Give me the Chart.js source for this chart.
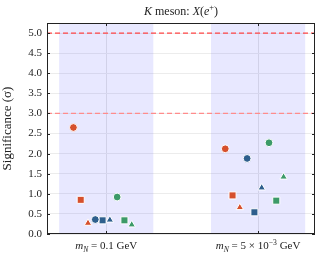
<!DOCTYPE html>
<html>
<head>
<meta charset="utf-8">
<script src="https://cdn.jsdelivr.net/npm/chart.js@4"></script>
<style>
  html, body { margin: 0; padding: 0; background: #fff; }
  #wrap { width: 321px; height: 257px; }
</style>
</head>
<body>
<div id="wrap"><canvas id="chart"></canvas></div>
<script>
// Mass points (x categories)
const massLabels = ['0.1', '5e-3'];
// Nine series: colour x marker
const seriesColors = ['#d6502d', '#d6502d', '#d6502d', '#2e5f8d', '#2e5f8d', '#2e5f8d', '#3c9a68', '#3c9a68', '#3c9a68'];
const seriesShapes = ['circle', 'rect', 'triangle', 'circle', 'rect', 'triangle', 'circle', 'rect', 'triangle'];
// Significance values per series, [m_N = 0.1, m_N = 5e-3]
const sigRedCircle   = [2.65, 2.12];
const sigRedSquare   = [0.85, 0.96];
const sigRedTri      = [0.27, 0.66];
const sigBlueCircle  = [0.36, 1.88];
const sigBlueSquare  = [0.34, 0.54];
const sigBlueTri     = [0.35, 1.15];
const sigGreenCircle = [0.92, 2.27];
const sigGreenSquare = [0.34, 0.83];
const sigGreenTri    = [0.23, 1.42];
const seriesValues = [sigRedCircle, sigRedSquare, sigRedTri, sigBlueCircle, sigBlueSquare, sigBlueTri, sigGreenCircle, sigGreenSquare, sigGreenTri];
// Reference significance lines
const thresholds = [5.0, 3.0];
const thresholdColors = ['rgb(255,70,70)', 'rgb(255,140,140)'];
const yTicks = [0, 0.5, 1, 1.5, 2, 2.5, 3, 3.5, 4, 4.5, 5];

const X_MIN = -0.39, X_MAX = 1.375;
const SERIF = '"Liberation Serif", "DejaVu Serif", serif';
const radiusFor = { circle: 3.9, rect: 5, triangle: 4.3 };

const datasets = seriesValues.map((vals, i) => {
  const off = (i - 4) * 0.048 - 0.024;
  return {
    type: 'scatter',
    label: 's' + i,
    order: 1,
    data: vals.map((v, g) => ({ x: g + off, y: v })),
    pointStyle: seriesShapes[i],
    pointRadius: radiusFor[seriesShapes[i]],
    pointBackgroundColor: seriesColors[i],
    pointBorderColor: '#ffffff',
    pointBorderWidth: 1,
    showLine: false
  };
});
thresholds.forEach((t, i) => {
  datasets.push({
    type: 'line',
    label: t + ' sigma',
    order: 10,
    data: [{ x: X_MIN, y: t }, { x: X_MAX, y: t }],
    borderColor: thresholdColors[i],
    borderWidth: 1.3,
    borderDash: [5, 3],
    pointRadius: 0,
    fill: false
  });
});

// helper: draw runs of text with styles
function drawRuns(ctx, runs, cx, y, size) {
  let total = 0;
  runs.forEach(r => {
    const fs = r.sub || r.sup ? size * 0.7 : size;
    ctx.font = (r.it ? 'italic ' : '') + fs + 'px ' + SERIF;
    r.w = ctx.measureText(r.t).width;
    r.fs = fs;
    total += r.w;
  });
  let x = cx - total / 2;
  ctx.textAlign = 'left';
  ctx.textBaseline = 'alphabetic';
  runs.forEach(r => {
    ctx.font = (r.it ? 'italic ' : '') + r.fs + 'px ' + SERIF;
    let dy = 0;
    if (r.sub) dy = size * 0.25;
    if (r.sup) dy = -size * 0.4;
    ctx.fillText(r.t, x, y + dy);
    x += r.w;
  });
}

const decor = {
  id: 'decor',
  beforeDatasetsDraw(chart) {
    const { ctx, chartArea: a, scales: { x } } = chart;
    ctx.save();
    // shaded bands
    ctx.fillStyle = 'rgba(100,100,255,0.15)';
    [0, 1].forEach(g => {
      const l = x.getPixelForValue(g - 0.31), r = x.getPixelForValue(g + 0.31);
      ctx.fillRect(l, a.top, r - l, a.bottom - a.top);
    });
    ctx.restore();
  },
  afterDraw(chart) {
    const { ctx, chartArea: a, scales: { x, y } } = chart;
    ctx.save();
    // frame
    ctx.strokeStyle = '#222';
    ctx.lineWidth = 1;
    ctx.strokeRect(Math.round(a.left) + 0.5, Math.round(a.top) + 0.5, Math.round(a.right - a.left) - 1, Math.round(a.bottom - a.top) - 1);
    // inward ticks
    ctx.beginPath();
    yTicks.forEach(t => {
      const py = Math.round(y.getPixelForValue(t)) + 0.5;
      ctx.moveTo(a.left, py); ctx.lineTo(a.left + 3, py);
      ctx.moveTo(a.right, py); ctx.lineTo(a.right - 3, py);
    });
    [0, 1].forEach(g => {
      const px = Math.round(x.getPixelForValue(g)) + 0.5;
      ctx.moveTo(px, a.top); ctx.lineTo(px, a.top + 3);
      ctx.moveTo(px, a.bottom); ctx.lineTo(px, a.bottom - 3);
    });
    ctx.stroke();
    // title
    ctx.fillStyle = '#222';
    drawRuns(ctx, [
      { t: 'K', it: true }, { t: ' meson: ' }, { t: 'X', it: true }, { t: '(' },
      { t: 'e', it: true }, { t: '+', sup: true }, { t: ')' }
    ], (a.left + a.right) / 2, 15, 12);
    // x category labels
    const lab0 = [{ t: 'm', it: true }, { t: 'N', it: true, sub: true }, { t: ' = ' + massLabels[0] + ' GeV' }];
    const lab1 = [{ t: 'm', it: true }, { t: 'N', it: true, sub: true }, { t: ' = 5 \u00d7 10' }, { t: '\u22123', sup: true }, { t: ' GeV' }];
    drawRuns(ctx, lab0, x.getPixelForValue(0), a.bottom + 15, 11);
    drawRuns(ctx, lab1, x.getPixelForValue(1), a.bottom + 15, 11);
    ctx.restore();
  }
};

new Chart(document.getElementById('chart'), {
  type: 'scatter',
  data: { datasets },
  options: {
    responsive: true,
    maintainAspectRatio: false,
    animation: false,
    layout: { padding: { top: 23, right: 6, left: 0, bottom: 0 } },
    plugins: { legend: { display: false }, tooltip: { enabled: false } },
    scales: {
      x: {
        type: 'linear',
        min: X_MIN,
        max: X_MAX,
        afterBuildTicks: s => { s.ticks = [{ value: 0 }, { value: 1 }]; },
        ticks: { display: false },
        grid: { color: '#e4e4e4', drawTicks: false },
        border: { display: false },
        afterFit: s => { s.height = 23; }
      },
      y: {
        min: 0,
        max: 5.25,
        ticks: {
          stepSize: 0.5,
          includeBounds: false,
          padding: 5,
          color: '#222',
          font: { family: SERIF, size: 11 },
          callback: v => Number(v).toFixed(1)
        },
        grid: { color: '#ececec', drawTicks: false },
        border: { display: false },
        title: {
          display: true,
          text: 'Significance (\u03c3)',
          color: '#222',
          font: { family: SERIF, size: 13 },
          padding: { top: 0, bottom: 1 }
        },
        afterFit: s => { s.width = 47; }
      }
    }
  },
  plugins: [decor]
});
</script>
</body>
</html>
